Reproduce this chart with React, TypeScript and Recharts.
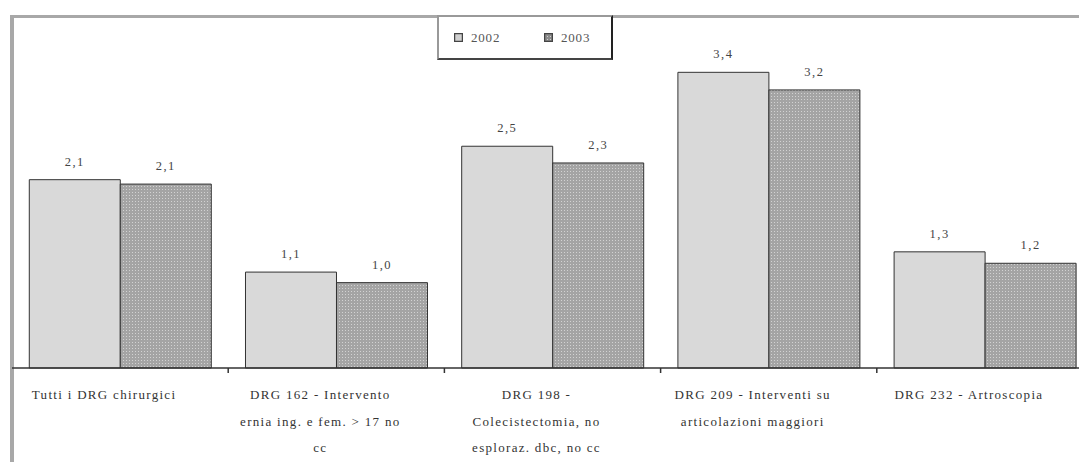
import { BarChart, Bar, XAxis, YAxis, LabelList } from 'recharts';

const categories = [
  'Tutti i DRG chirurgici',
  'DRG 162 - Intervento\nernia ing. e fem. > 17 no\ncc',
  'DRG 198 -\nColecistectomia, no\nesploraz. dbc, no cc',
  'DRG 209 - Interventi su\narticolazioni maggiori',
  'DRG 232 - Artroscopia',
];
const values2002 = [2.14, 1.09, 2.52, 3.36, 1.32];
const values2003 = [2.09, 0.97, 2.33, 3.16, 1.19];

const data = categories.map((name, i) => ({ name, y2002: values2002[i], y2003: values2003[i] }));

const CHART_W = 1100;
const MARGIN = { top: 16, right: 7, bottom: 12, left: 12 };
const BAND = (CHART_W - MARGIN.left - MARGIN.right) / categories.length;
const SERIF = '"Liberation Serif", "Times New Roman", "DejaVu Serif", serif';

const fmt = (v: any) => Number(v).toFixed(1).replace('.', ',');

function CategoryTick(props: any) {
  const { x, y, payload, index } = props;
  const lines = String(payload.value).split('\n');
  return (
    <g>
      {index < categories.length - 1 && (
        <line x1={x + BAND / 2} x2={x + BAND / 2} y1={y} y2={y + 5} stroke="#333" strokeWidth={1.5} />
      )}
      <text
        x={x - 16}
        y={y}
        textAnchor="middle"
        fill="#333"
        style={{ fontFamily: SERIF, fontSize: 13, letterSpacing: 1.3 }}
      >
        {lines.map((l, i) => (
          <tspan key={i} x={x - 16} y={y + 31 + i * 26.5}>
            {l}
          </tspan>
        ))}
      </text>
    </g>
  );
}

function LegendIcon({ fill }: { fill: string }) {
  return (
    <svg width={9} height={9} style={{ marginRight: 8 }}>
      <defs>
        <pattern id="dotsLegend" width={3} height={3} patternUnits="userSpaceOnUse">
          <rect width={3} height={3} fill="#8c8c8c" />
          <rect width={1} height={1} fill="#cfcfcf" />
        </pattern>
      </defs>
      <rect x={0.5} y={0.5} width={8} height={8} fill={fill} stroke="#444" strokeWidth={1.5} />
    </svg>
  );
}

const labelStyle = { fontFamily: SERIF, fontSize: 12.5, letterSpacing: 1.5 };

export default function App() {
  return (
    <div
      style={{
        position: 'absolute',
        left: 0,
        top: 0,
        width: 1079,
        height: 462,
        overflow: 'hidden',
        background: '#fff',
      }}
    >
      <div
        style={{
          position: 'absolute',
          left: 10,
          top: 15,
          width: 1200,
          height: 600,
          borderLeft: '4px solid #a8a8a8',
          borderTop: '3px solid #a8a8a8',
        }}
      />
      <div style={{ position: 'absolute', left: 0, top: 0 }}>
        <BarChart
          width={CHART_W}
          height={470}
          data={data}
          margin={MARGIN}
          barCategoryGap="8%"
          barGap={0}
        >
          <defs>
            <pattern id="dots2003" width={3} height={3} patternUnits="userSpaceOnUse">
              <rect width={3} height={3} fill="#a4a4a4" />
              <rect width={1} height={1} fill="#d2d2d2" />
            </pattern>
          </defs>
          <YAxis hide domain={[0, 4]} />
          <XAxis
            dataKey="name"
            interval={0}
            height={90}
            tickLine={false}
            tickSize={0}
            tickMargin={0}
            axisLine={{ stroke: '#333', strokeWidth: 1.5 }}
            tick={<CategoryTick />}
          />
          <Bar dataKey="y2002" fill="#d9d9d9" stroke="#333" strokeWidth={1} isAnimationActive={false}>
            <LabelList
              dataKey="y2002"
              position="top"
              offset={14}
              formatter={fmt}
              fill="#444"
              style={labelStyle}
            />
          </Bar>
          <Bar dataKey="y2003" fill="url(#dots2003)" stroke="#333" strokeWidth={1} isAnimationActive={false}>
            <LabelList
              dataKey="y2003"
              position="top"
              offset={14}
              formatter={fmt}
              fill="#444"
              style={labelStyle}
            />
          </Bar>
        </BarChart>
      </div>
      <div
        style={{
          position: 'absolute',
          left: 437,
          top: 15,
          width: 176,
          height: 45,
          boxSizing: 'border-box',
          background: '#fff',
          borderLeft: '2px solid #999',
          borderTop: '2px solid #999',
          borderRight: '2px solid #222',
          borderBottom: '2px solid #444',
          display: 'flex',
          alignItems: 'center',
          paddingLeft: 15,
          fontFamily: SERIF,
          fontSize: 13,
          color: '#555',
          letterSpacing: 0.8,
        }}
      >
        <span style={{ display: 'flex', alignItems: 'center', width: 90 }}>
          <LegendIcon fill="#d0d0d0" />
          2002
        </span>
        <span style={{ display: 'flex', alignItems: 'center' }}>
          <LegendIcon fill="url(#dotsLegend)" />
          2003
        </span>
      </div>
    </div>
  );
}
